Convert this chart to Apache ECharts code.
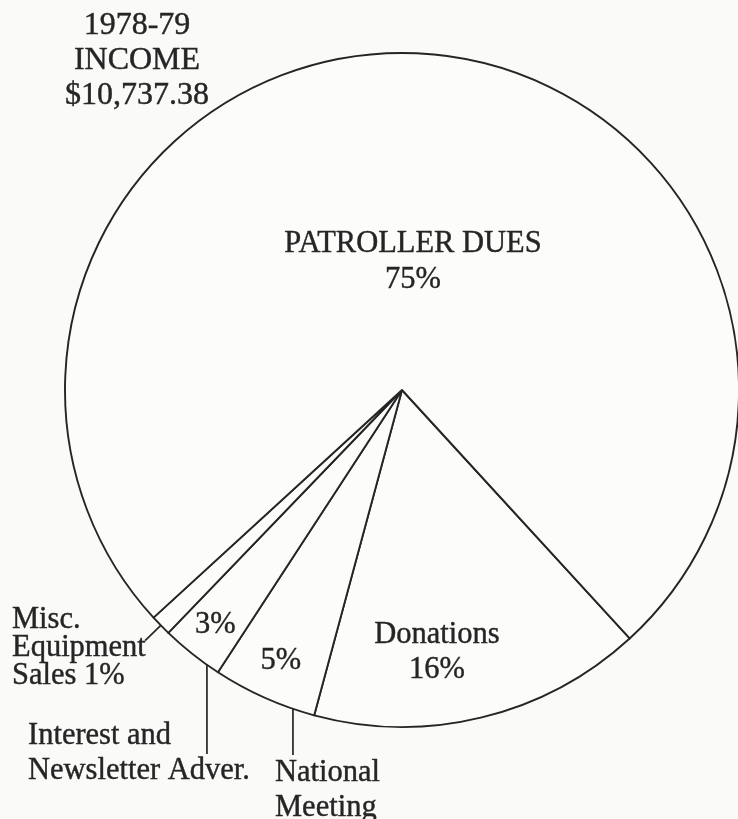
<!DOCTYPE html>
<html>
<head>
<meta charset="utf-8">
<script src="https://cdn.jsdelivr.net/npm/echarts@6/dist/echarts.min.js"></script>
<style>
html,body{margin:0;padding:0;background:#fafaf8;}
#c{width:738px;height:819px;}
</style>
</head>
<body>
<div id="c"></div>
<script>
// ---- data (clockwise order starting at the Donations / Patroller boundary) ----
const categories = ['Donations', 'National Meeting', 'Interest and Newsletter Adver.', 'Misc. Equipment Sales', 'Patroller Dues'];
const values = [16, 5, 3, 1, 75];
const titleLines = ['1978-79', 'INCOME', '$10,737.38'];
const nameLines = [
  ['Donations'],
  ['National', 'Meeting'],
  ['Interest and', 'Newsletter Adver.'],
  ['Misc.', 'Equipment', 'Sales'],
  ['PATROLLER DUES']
];

const INK = '#252525';
const FONT = '"Liberation Serif","Times New Roman",serif';
const CX = 402, CY = 390, R = 337, START = -47.5;

const chart = echarts.init(document.getElementById('c'), null, {renderer: 'canvas'});

chart.setOption({
  backgroundColor: '#fafaf8',
  animation: false,
  title: {
    text: titleLines.join('\n'),
    left: 137, top: 8, textAlign: 'center', padding: 0,
    textStyle: {fontFamily: FONT, fontSize: 32, fontWeight: 'normal', color: INK, lineHeight: 35,
                textBorderColor: INK, textBorderWidth: 0.4}
  },
  series: [{
    type: 'pie',
    center: [CX, CY],
    radius: [0, R],
    startAngle: START,
    clockwise: true,
    silent: true,
    label: {show: false},
    labelLine: {show: false},
    emphasis: {disabled: true},
    itemStyle: {color: '#fcfcfa', borderColor: INK, borderWidth: 1.9, borderJoin: 'round'},
    data: categories.map((c, i) => ({name: c, value: values[i]}))
  }]
});

// ---- get slice geometry from the library's layout ----
function layouts() {
  try {
    const d = chart.getModel().getSeriesByIndex(0).getData();
    const out = [];
    for (let i = 0; i < values.length; i++) {
      const l = d.getItemLayout(i);
      out.push({cx: l.cx, cy: l.cy, r: l.r, a0: l.startAngle, a1: l.endAngle});
    }
    return out;
  } catch (e) {
    const total = values.reduce((a, b) => a + b, 0);
    let a = -START * Math.PI / 180;
    return values.map(v => {
      const s = a; a += v / total * Math.PI * 2;
      return {cx: CX, cy: CY, r: R, a0: s, a1: a};
    });
  }
}
const L = layouts();
function pt(l, frac, rr) {
  const a = l.a0 + (l.a1 - l.a0) * frac;
  return [l.cx + rr * Math.cos(a), l.cy + rr * Math.sin(a)];
}
const pct = i => values[i] + '%';
const txt = (text, x, y, align, lh, size) => ({
  type: 'text', silent: true, z: 10,
  style: {text, x, y, align, textAlign: align, verticalAlign: 'middle', textVerticalAlign: 'middle',
          font: (size || 30.5) + 'px ' + FONT, fill: INK, lineHeight: lh,
          stroke: INK, lineWidth: 0.4}
});
const line = (p, q) => ({
  type: 'line', silent: true, z: 10,
  shape: {x1: p[0], y1: p[1], x2: q[0], y2: q[1]},
  style: {stroke: INK, lineWidth: 1.7}
});

const g = [];
// Patroller dues (index 4)
g.push(txt(nameLines[4][0] + '\n' + pct(4), 413, 262, 'center', 36));
// Donations (index 0)
g.push(txt(nameLines[0][0] + '\n' + pct(0), 437, 652, 'center', 35));
// National meeting (index 1): percent inside, name outside with leader
{
  const l = L[1];
  const p = pt(l, 0.5, l.r * 0.88);
  g.push(txt(pct(1), p[0], p[1], 'center', 30));
  const a = pt(l, 0.21, l.r);
  g.push(line(a, [a[0], 755]));
  g.push(txt(nameLines[1].join('\n'), 275, 790, 'left', 35));
}
// Interest and newsletter (index 2)
{
  const l = L[2];
  const p = pt(l, 0.5, l.r * 0.89);
  g.push(txt(pct(2), p[0], p[1], 'center', 30));
  const a = pt(l, 0.21, l.r);
  g.push(line(a, [a[0], 754]));
  g.push(txt(nameLines[2].join('\n'), 28, 753, 'left', 35));
}
// Misc equipment (index 3)
{
  const l = L[3];
  const a = pt(l, 0.5, l.r);
  const b = pt(l, 0.5, l.r + 22);
  g.push(line(a, b));
  const ml = nameLines[3].slice();
  ml[2] = ml[2] + ' ' + pct(3);
  g.push(txt(ml.join('\n'), 12, 648, 'left', 28));
}
chart.setOption({graphic: g});
</script>
</body>
</html>
